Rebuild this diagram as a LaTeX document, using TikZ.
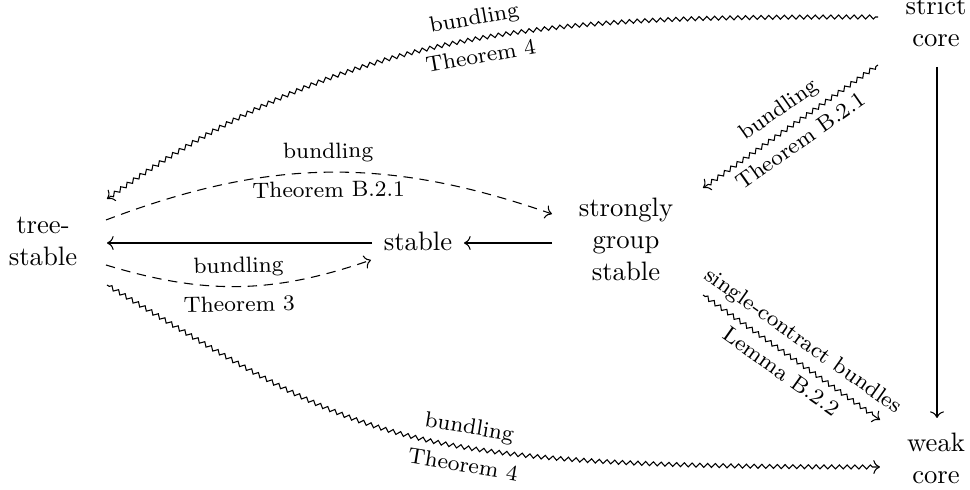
\documentclass[tikz,border=0pt]{standalone}
\usetikzlibrary{arrows.meta,decorations.pathmorphing}
\begin{document}
\begin{tikzpicture}[x=0.375pt,y=0.375pt,
  >={Computer Modern Rightarrow},
  nd/.style={align=center,inner sep=0pt},
  ar/.style={->},
  da/.style={->,dash pattern=on 3.5pt off 2.5pt},
  sq/.style={->,decorate,decoration={zigzag,segment length=2.9pt,amplitude=0.75pt,pre length=1pt,post length=2pt}},
  lab/.style={font=\fontsize{8.3}{10}\selectfont,sloped,pos=0.5}]
\useasboundingbox (0,0) rectangle (970,-490);
\node[nd] (T) at (43,-241) {tree-\\stable};
\node[nd] (S) at (418,-241) {stable};
\node[nd] (G) at (626,-239) {strongly\\group\\stable};
\node[nd] (C) at (936,-22) {strict\\core};
\node[nd] (W) at (936,-458) {weak\\core};
% solid
\draw[ar] ([shift={(1,-45)}]C.center) -- ([shift={(1,40)}]W.center);
\draw[ar] ([shift={(-74,-4)}]G.center) -- ([shift={(46,-2)}]S.center);
\draw[ar] ([shift={(-46,-2)}]S.center) -- ([shift={(64,-2)}]T.center);
% dashed
\draw[da] ([shift={(63,21)}]T.center) to[bend left=20]
  node[lab,above]{bundling} node[lab,below]{Theorem B.2.1} ([shift={(-74,25)}]G.center);
\draw[da] ([shift={(63,-24)}]T.center) to[bend right=18]
  node[lab,above]{bundling} node[lab,below]{Theorem 3} ([shift={(-47,-19)}]S.center);
% squiggly
\draw[sq] ([shift={(-58,5)}]C.center) to[out=180,in=36]
  node[lab,pos=0.49,above]{bundling} node[lab,pos=0.49,below]{Theorem 4} ([shift={(64,42)}]T.center);
\draw[sq] ([shift={(-58,-43)}]C.center) --
  node[lab,above]{bundling} node[lab,below]{Theorem B.2.1} ([shift={(77,51)}]G.center);
\draw[sq] ([shift={(77,-56)}]G.center) --
  node[lab,above]{single-contract bundles} node[lab,below]{Lemma B.2.2} ([shift={(-56,38)}]W.center);
\draw[sq] ([shift={(64,-44)}]T.center) .. controls +(257,-155) and +(-500,0) .. ([shift={(-56,-9)}]W.center)
  node[lab,pos=0.6,above]{bundling} node[lab,pos=0.6,below]{Theorem 4};
\end{tikzpicture}
\end{document}
